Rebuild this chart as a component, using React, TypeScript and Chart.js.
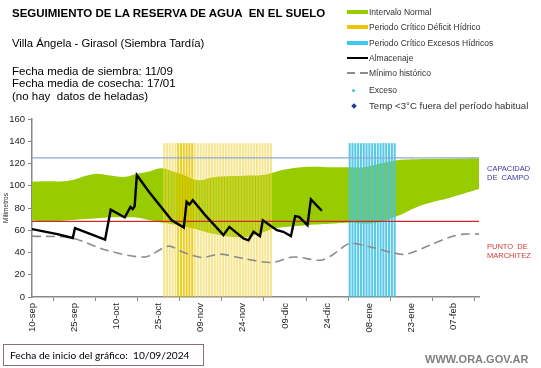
import React, { useEffect, useRef } from "react";
import { Chart, registerables } from "chart.js";

Chart.register(...registerables);

const FONT = "'Liberation Sans', Arial, sans-serif";

// X axis: days since 10-sep-2024
const tickDays = [0, 15, 30, 45, 60, 75, 90, 105, 120, 135, 150];
const tickLabels = ["10-sep", "25-sep", "10-oct", "25-oct", "09-nov", "24-nov", "09-dic", "24-dic", "08-ene", "23-ene", "07-feb"];
const xMax = 159;

// Intervalo normal (band)
const normalDays = [0, 5, 13, 22, 27, 33, 37, 42, 46, 50, 53, 59, 64, 69, 76, 82, 86, 90, 98, 107, 113, 118, 124, 130, 137, 142, 148, 159];
const normalHigh = [103.6, 104, 104.5, 110.5, 109.5, 108, 110.5, 113, 115.7, 113, 110.5, 105, 107.5, 108.5, 109, 109.6, 112, 114.5, 117, 116.6, 116.6, 116.6, 120, 123, 123.8, 124, 124.3, 124.7];
const normalLow = [69, 67.6, 69, 70.5, 71.5, 71.5, 71.5, 69, 67, 65.5, 64.3, 60.5, 57, 54.7, 54, 58, 61.6, 63, 64.6, 66, 66.7, 66, 67.5, 72.7, 81, 85, 88.8, 97];

// Almacenaje
const almDays = [0, 9, 14.5, 15.3, 26, 28, 33, 35, 35.8, 36.5, 37.3, 41.6, 49.7, 54, 55, 56, 57.2, 61.6, 68.1, 70.2, 75.2, 77, 78.8, 81.1, 82.1, 87.1, 89.4, 92.1, 93.6, 95, 98, 99.2, 103.1];
const almValues = [61, 56.5, 53, 62, 51.5, 78.5, 71.5, 81, 79, 81.5, 109.5, 94.6, 69, 62.5, 85.6, 83.2, 87, 73.6, 55.6, 63, 52.6, 51, 58.6, 54.7, 69, 60, 58.6, 54.7, 72.7, 72, 64.6, 87.7, 77.5];

// Mínimo histórico
const minDays = [0, 14, 26.6, 40.2, 48.5, 54, 60.4, 66.9, 75.2, 85.3, 93, 102.5, 107, 113, 120.3, 128.6, 133.3, 141.6, 148.8, 153.5, 159];
const minValues = [54.7, 53, 42, 36, 45.7, 40, 35.5, 38.5, 34.6, 31, 36, 33, 38, 48, 45, 39.6, 38.5, 46.6, 54, 56.5, 56.5];

// Reference levels
const capacidadCampo = 125;
const puntoMarchitez = 68;

// Critical periods (start day, end day) and stripe height
const deficitPeriod = [47, 85];
const deficitPeak = [52, 57];
const excesoPeriod = [113, 129];
const stripeTop = 138;

const pts = (xs: number[], ys: number[]) => xs.map((x, i) => ({ x, y: ys[i] }));

export default function App() {
  const ref = useRef<HTMLCanvasElement>(null);

  useEffect(() => {
    const canvas = ref.current;
    if (!canvas) return;

    const stripeData: { x: number; y: number }[] = [];
    const stripeColors: string[] = [];
    for (let d = deficitPeriod[0]; d <= deficitPeriod[1]; d++) {
      stripeData.push({ x: d, y: stripeTop });
      stripeColors.push(d >= deficitPeak[0] && d <= deficitPeak[1] ? "rgba(232,198,0,0.85)" : "rgba(240,214,70,0.6)");
    }
    for (let d = excesoPeriod[0]; d <= excesoPeriod[1]; d++) {
      stripeData.push({ x: d, y: stripeTop });
      stripeColors.push("rgba(70,196,228,0.9)");
    }

    const chart = new Chart(canvas, {
      type: "line",
      data: {
        datasets: [
          {
            label: "low",
            data: pts(normalDays, normalLow),
            borderWidth: 0,
            borderColor: "rgba(0,0,0,0)",
            pointRadius: 0,
            fill: false,
            tension: 0.4,
            order: 6,
          },
          {
            label: "Intervalo Normal",
            data: pts(normalDays, normalHigh),
            borderWidth: 0,
            borderColor: "rgba(0,0,0,0)",
            backgroundColor: "#99cc00",
            pointRadius: 0,
            fill: "-1",
            tension: 0.4,
            order: 5,
          },
          {
            type: "bar",
            label: "stripes",
            data: stripeData,
            backgroundColor: stripeColors,
            barThickness: 1.4,
            order: 4,
          } as any,
          {
            label: "cc",
            data: [{ x: 0, y: capacidadCampo }, { x: xMax, y: capacidadCampo }],
            borderColor: "#8eaad8",
            borderWidth: 1.2,
            pointRadius: 0,
            order: 3,
          },
          {
            label: "pm",
            data: [{ x: 0, y: puntoMarchitez }, { x: xMax, y: puntoMarchitez }],
            borderColor: "#d02828",
            borderWidth: 1.2,
            pointRadius: 0,
            order: 3,
          },
          {
            label: "Mínimo histórico",
            data: pts(minDays, minValues),
            borderColor: "#8c8c8c",
            borderWidth: 1.6,
            borderDash: [9, 5],
            pointRadius: 0,
            tension: 0.3,
            order: 2,
          },
          {
            label: "Almacenaje",
            data: pts(almDays, almValues),
            borderColor: "#000",
            borderWidth: 2.4,
            pointRadius: 0,
            tension: 0,
            order: 1,
          },
        ],
      },
      options: {
        responsive: false,
        animation: false,
        layout: { padding: { top: 119, right: 62, left: 0, bottom: 0 } },
        plugins: { legend: { display: false }, tooltip: { enabled: false } },
        scales: {
          x: {
            type: "linear",
            min: 0,
            max: xMax,
            offset: false,
            afterBuildTicks: (s: any) => {
              s.ticks = tickDays.map((v) => ({ value: v }));
            },
            afterFit: (s: any) => {
              s.height = 71;
            },
            ticks: {
              autoSkip: false,
              maxRotation: 90,
              minRotation: 90,
              padding: 2,
              color: "#222",
              font: { family: FONT, size: 9.5 },
              callback: (v: any) => {
                const i = tickDays.indexOf(Number(v));
                return i >= 0 ? tickLabels[i] : "";
              },
            },
            grid: { drawOnChartArea: false, tickLength: 4, color: "#888" },
            border: { color: "#888", width: 1.5 },
          },
          y: {
            min: 0,
            max: 160,
            afterFit: (s: any) => {
              s.width = 32;
            },
            ticks: { stepSize: 20, padding: 3, color: "#222", font: { family: FONT, size: 9.5 } },
            grid: { drawOnChartArea: false, tickLength: 4, color: "#888" },
            border: { color: "#888", width: 1.5 },
            title: {
              display: true,
              text: "Milímetros",
              color: "#222",
              font: { family: FONT, size: 6.5 },
              padding: { top: 2, bottom: 0 },
            },
          },
        },
      },
    } as any);

    return () => chart.destroy();
  }, []);

  const legendItems = [
    { y: 11.7, label: "Intervalo Normal", kind: "band", color: "#99cc00" },
    { y: 26.7, label: "Periodo Crítico Déficit Hídrico", kind: "band", color: "#f5c400" },
    { y: 42.7, label: "Periodo Crítico Excesos Hídricos", kind: "band", color: "#3cc8f0" },
    { y: 58.3, label: "Almacenaje", kind: "line", color: "#000" },
    { y: 73.3, label: "Mínimo histórico", kind: "dash", color: "#8c8c8c" },
    { y: 90, label: "Exceso", kind: "dot", color: "#33cccc" },
    { y: 106, label: "Temp <3°C fuera del período habitual", kind: "diamond", color: "#1f3a9a" },
  ];

  const swatch = (kind: string, color: string) => {
    if (kind === "band")
      return <div style={{ position: "absolute", left: 0, top: -2, width: 21, height: 4, background: color }} />;
    if (kind === "line")
      return <div style={{ position: "absolute", left: 0, top: -1, width: 21, height: 2, background: color }} />;
    if (kind === "dash")
      return (
        <>
          <div style={{ position: "absolute", left: 0, top: -1, width: 8, height: 1.6, background: color }} />
          <div style={{ position: "absolute", left: 13, top: -1, width: 8, height: 1.6, background: color }} />
        </>
      );
    if (kind === "dot")
      return <div style={{ position: "absolute", left: 5, top: -1.5, width: 3, height: 3, borderRadius: 2, background: color }} />;
    return <div style={{ position: "absolute", left: 4.5, top: -2, width: 4, height: 4, transform: "rotate(45deg)", background: color }} />;
  };

  return (
    <div style={{ position: "absolute", left: 0, top: 0, width: 541, height: 368, background: "#fff", fontFamily: FONT, color: "#000", overflow: "hidden" }}>
      <canvas ref={ref} width={541} height={368} style={{ position: "absolute", left: 0, top: 0, width: 541, height: 368 }} />
      <div style={{ position: "absolute", left: 12, top: 7, fontSize: 11.5, lineHeight: "13px", fontWeight: "bold", whiteSpace: "pre" }}>
        SEGUIMIENTO DE LA RESERVA DE AGUA  EN EL SUELO
      </div>
      <div style={{ position: "absolute", left: 12, top: 36, fontSize: 11.3, lineHeight: "14px", whiteSpace: "pre" }}>
        Villa Ángela - Girasol (Siembra Tardía)
      </div>
      <div style={{ position: "absolute", left: 12, top: 64.5, fontSize: 11.5, lineHeight: "12.6px", whiteSpace: "pre" }}>
        <div>Fecha media de siembra: 11/09</div>
        <div>Fecha media de cosecha: 17/01</div>
        <div>(no hay  datos de heladas)</div>
      </div>

      {legendItems.map((it, i) => (
        <div key={i} style={{ position: "absolute", left: 347, top: it.y, height: 0 }}>
          {swatch(it.kind, it.color)}
          <div style={{ position: "absolute", left: 22, top: -6, fontSize: it.kind === "diamond" ? 9.6 : 8.5, lineHeight: "12px", color: "#333", whiteSpace: "pre" }}>
            {it.label}
          </div>
        </div>
      ))}

      <div style={{ position: "absolute", left: 487, top: 165, fontSize: 7.5, lineHeight: "8.5px", color: "#3a3aa0", whiteSpace: "pre" }}>
        <div>CAPACIDAD</div>
        <div>DE  CAMPO</div>
      </div>
      <div style={{ position: "absolute", left: 487, top: 242, fontSize: 7.5, lineHeight: "9px", color: "#d03a3a", whiteSpace: "pre" }}>
        <div>PUNTO  DE</div>
        <div>MARCHITEZ</div>
      </div>

      <div style={{ position: "absolute", left: 3, top: 344, width: 199, height: 20, border: "1px solid #8e7070", boxSizing: "content-box" }}>
        <div style={{ position: "absolute", left: 6, top: 3, fontFamily: "Lato, sans-serif", fontSize: 10.2, lineHeight: "14px", whiteSpace: "pre" }}>
          Fecha de inicio del gráfico:  10/09/2024
        </div>
      </div>
      <div style={{ position: "absolute", left: 425, top: 353, fontSize: 11, lineHeight: "12px", fontWeight: "bold", color: "#808080", whiteSpace: "pre" }}>
        WWW.ORA.GOV.AR
      </div>
    </div>
  );
}
